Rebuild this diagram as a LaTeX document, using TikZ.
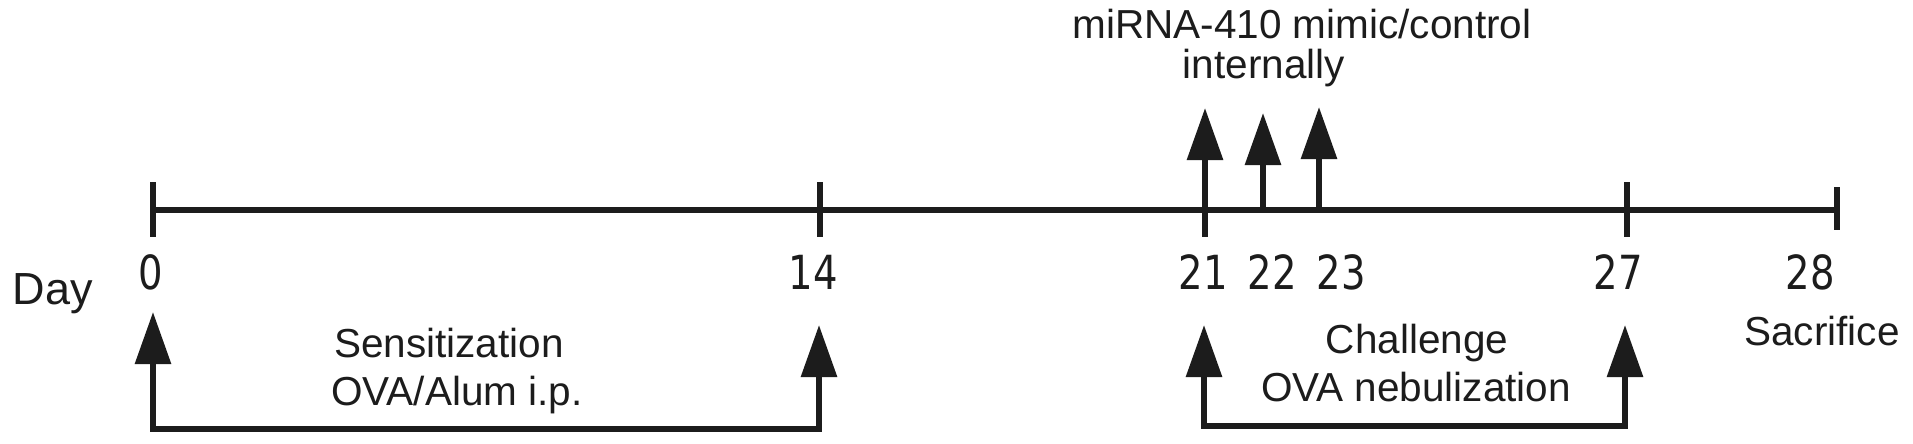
\documentclass[tikz,border=0pt]{standalone}
\usepackage{fontspec}
\setmainfont{Liberation Sans}
\newfontfamily\digitfont[FakeStretch=0.82]{DejaVu Sans}
\usetikzlibrary{arrows.meta}
\definecolor{ink}{RGB}{28,28,28}
\begin{document}
\begin{tikzpicture}[x=1pt,y=-1pt,
  axis/.style={line width=6pt, draw=ink},
  headtip/.style={-{Triangle[width=35pt,length=52pt]}},
  bothtips/.style={{Triangle[width=35pt,length=52pt]}-{Triangle[width=35pt,length=52pt]}},
  lbl/.style={font=\fontsize{40.5}{48}\selectfont, text=ink, inner sep=0pt, anchor=base},
  num/.style={font=\digitfont\fontsize{47}{56}\selectfont, text=ink, inner sep=0pt, anchor=base}]
\useasboundingbox (0,0) rectangle (1913,444);
\fill[white] (0,0) rectangle (1913,444);
% timeline points
\coordinate (t0) at (153,210);
\coordinate (t14) at (820,210);
\coordinate (t21) at (1205,210);
\coordinate (t22) at (1263,210);
\coordinate (t23) at (1319,210);
\coordinate (t27) at (1627,210);
\coordinate (t28) at (1837,210);
\draw[axis] (t0) -- (t28);
% ticks
\draw[axis] ([yshift=28pt]t0) -- ([yshift=-27pt]t0);
\draw[axis] ([yshift=28pt]t14) -- ([yshift=-27pt]t14);
\draw[axis] (t21) -- ([yshift=-27pt]t21);
\draw[axis] ([yshift=28pt]t27) -- ([yshift=-27pt]t27);
\draw[axis] ([yshift=23pt]t28) -- ([yshift=-20pt]t28);
% top arrows
\coordinate (u21) at (1205,108);
\coordinate (u22) at (1263,113);
\coordinate (u23) at (1319,107);
\draw[axis,headtip] (t21) -- (u21);
\draw[axis,headtip] (t22) -- (u22);
\draw[axis,headtip] (t23) -- (u23);
% bottom brackets
\coordinate (a0) at (153,312);
\coordinate (b0) at (153,429);
\coordinate (a14) at (819,325);
\coordinate (b14) at (819,429);
\coordinate (a21) at (1204,325);
\coordinate (b21) at (1204,426);
\coordinate (a27) at (1625,325);
\coordinate (b27) at (1625,426);
\draw[axis,bothtips] (a0) -- (b0) -- (b14) -- (a14);
\draw[axis,bothtips] (a21) -- (b21) -- (b27) -- (a27);
% labels
\node[lbl,font=\fontsize{45}{52}\selectfont] (day) at (53,304) {Day};
\node[num] (n0) at (151,289) {0};
\node[num] (n14) at (813,289) {14};
\node[num] (n21) at (1203,289) {21};
\node[num] (n22) at (1272,289) {22};
\node[num] (n23) at (1341,289) {23};
\node[num] (n27) at (1618,289) {27};
\node[num] (n28) at (1810,289) {28};
\node[lbl,text depth=0pt] (m1) at (1302,39) {miRNA-410 mimic/control};
\node[lbl,text height=28pt] (m2) at (1264,78) {internally};
\node[lbl] (s1) at (449,357) {Sensitization};
\node[lbl] (s2) at (457,405) {OVA/Alum i.p.};
\node[lbl] (c1) at (1417,353) {Challenge};
\node[lbl] (c2) at (1416,401) {OVA nebulization};
\node[lbl] (sac) at (1822,345) {Sacrifice};
\end{tikzpicture}
\end{document}
